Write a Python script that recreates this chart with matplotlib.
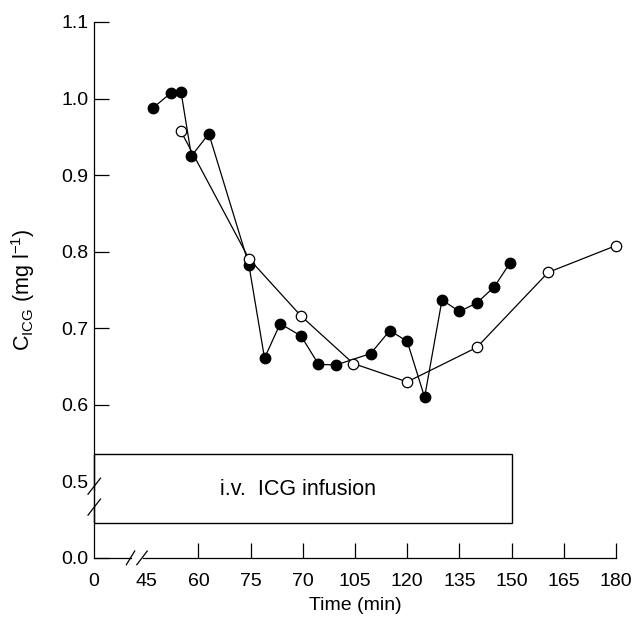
import matplotlib
matplotlib.use("Agg")
import matplotlib.pyplot as plt
from matplotlib.patches import Rectangle

plt.rcParams['font.family'] = ['Liberation Sans', 'DejaVu Sans']
plt.rcParams['mathtext.fontset'] = 'custom'
plt.rcParams['mathtext.rm'] = 'Liberation Sans'

# filled circles
t_filled = [47, 52, 55, 58, 63, 74.5, 79, 83.5, 89.5, 94.5, 99.5, 109.5,
            115, 120, 125, 130, 135, 140, 145, 149.5]
c_filled = [0.988, 1.007, 1.009, 0.925, 0.954, 0.783, 0.661, 0.706, 0.690,
            0.653, 0.652, 0.667, 0.697, 0.683, 0.610, 0.737, 0.722, 0.733,
            0.754, 0.785]

# open circles
t_open = [55, 74.5, 89.5, 104.5, 120, 140, 160.5, 180]
c_open = [0.957, 0.791, 0.716, 0.654, 0.630, 0.675, 0.773, 0.808]

# broken axes: "0" sits one step left of 45, "0.0" one step below 0.5
xtick_pos = [30, 45, 60, 75, 90, 105, 120, 135, 150, 165, 180]
xtick_lab = ['0', '45', '60', '75', '70', '105', '120', '135', '150', '165', '180']
ytick_pos = [0.4, 0.5, 0.6, 0.7, 0.8, 0.9, 1.0, 1.1]
ytick_lab = ['0.0', '0.5', '0.6', '0.7', '0.8', '0.9', '1.0', '1.1']

infusion = (30, 150)

fig = plt.figure(figsize=(6.34, 6.18), dpi=100)
ax = fig.add_axes([94 / 634, 1 - 558 / 618, 522 / 634, 536 / 618])

ax.plot(t_filled, c_filled, '-o', color='black', lw=0.9, ms=7.5,
        mfc='black', mec='black', clip_on=False, zorder=3)
ax.plot(t_open, c_open, '-o', color='black', lw=0.9, ms=7.5,
        mfc='white', mec='black', mew=0.9, clip_on=False, zorder=4)

ax.add_patch(Rectangle((infusion[0], 0.446), infusion[1] - infusion[0], 0.09,
                       fill=False, ec='black', lw=1.0, clip_on=False, zorder=2))
ax.text(88.6, 0.489, 'i.v.  ICG infusion', ha='center', va='center', fontsize=15.5)

ax.set_xlim(30, 180)
ax.set_ylim(0.4, 1.1)
ax.set_xticks(xtick_pos)
ax.set_xticklabels(xtick_lab)
ax.set_yticks(ytick_pos)
ax.set_yticklabels(ytick_lab)
ax.tick_params(direction='in', length=11, width=0.9, labelsize=14, pad=4)
ax.tick_params(axis='x', pad=10.5)
for tk in ax.xaxis.get_major_ticks()[:2]:
    tk.tick1line.set_visible(False)
ax.yaxis.get_major_ticks()[1].tick1line.set_visible(False)

for s in ax.spines.values():
    s.set_visible(False)

# axis lines with breaks
kw = dict(transform=ax.transAxes, color='black', lw=0.9, clip_on=False)
ax.plot([0, 0], [0, 0.096], **kw)
ax.plot([0, 0], [0.127, 1], **kw)
ax.plot([-0.0115, 0.0125], [0.119, 0.149], **kw)
ax.plot([-0.0115, 0.0125], [0.080, 0.110], **kw)
ax.plot([0, 0.071], [0, 0], **kw)
ax.plot([0.094, 1], [0, 0], **kw)
ax.plot([0.062, 0.078], [-0.0125, 0.013], **kw)
ax.plot([0.082, 0.102], [-0.0125, 0.013], **kw)

ax.set_xlabel('Time (min)', fontsize=14, labelpad=5)
ax.set_ylabel(r'C$_{\mathregular{ICG}}$ (mg l$^{\mathregular{-1}}$)', fontsize=15.5)
ax.yaxis.set_label_coords(-0.11, 0.5)

fig.savefig('out.png', dpi=100)
